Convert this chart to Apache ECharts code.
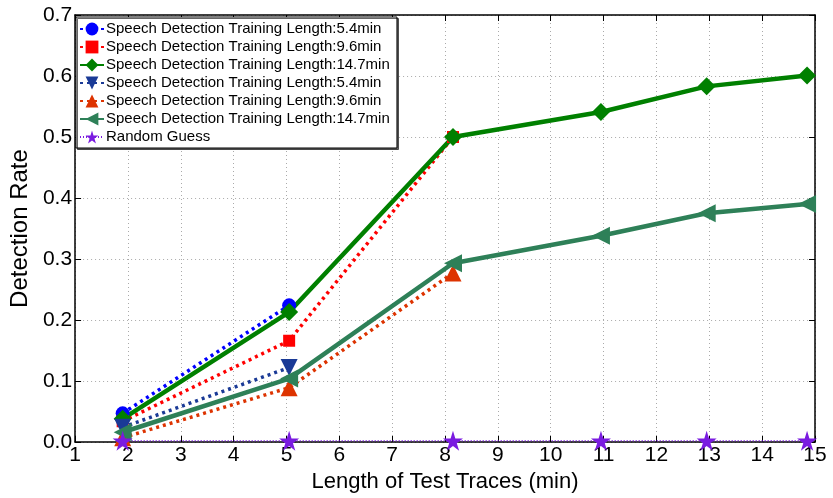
<!DOCTYPE html>
<html>
<head>
<meta charset="utf-8">
<script src="https://cdn.jsdelivr.net/npm/echarts@6/dist/echarts.min.js"></script>
<style>html,body{margin:0;padding:0;background:#fff}#c{width:833px;height:498px}</style>
</head>
<body>
<div id="c"></div>
<script>
// ---- data ----
const xValues = [1.9, 5.05, 8.15, 10.95, 12.95, 14.85];
const seriesNames = [
  'Speech Detection Training Length:5.4min',
  'Speech Detection Training Length:9.6min',
  'Speech Detection Training Length:14.7min',
  'Speech Detection Training Length:5.4min ',
  'Speech Detection Training Length:9.6min ',
  'Speech Detection Training Length:14.7min ',
  'Random Guess'
];
const blue54 = [0.047, 0.224];
const red96 = [0.034, 0.166, 0.500];
const green147 = [0.038, 0.213, 0.500, 0.541, 0.583, 0.601];
const navy54 = [0.024, 0.122];
const orange96 = [0.007, 0.089, 0.277];
const sea147 = [0.016, 0.104, 0.293, 0.338, 0.375, 0.390];
const randomGuess = [0.002, 0.002, 0.002, 0.002, 0.002, 0.002];
const yTicks = [0, 0.1, 0.2, 0.3, 0.4, 0.5, 0.6, 0.7];

const STAR = 'path://M50 0 L61.23 34.55 L97.55 34.55 L68.16 55.9 L79.39 90.45 L50 69.1 L20.61 90.45 L31.84 55.9 L2.45 34.55 L38.77 34.55 Z';

function pts(vals) { return vals.map((v, i) => [xValues[i], v]); }

function mk(name, vals, color, symbol, size, lineType, width, rotate) {
  return {
    name: name, type: 'line', data: pts(vals),
    symbol: symbol, symbolSize: size, symbolRotate: rotate || 0,
    itemStyle: { color: color },
    lineStyle: { color: color, width: width, type: lineType },
    emphasis: { disabled: true }, animation: false
  };
}

const chart = echarts.init(document.getElementById('c'));
const FONT = 'Liberation Sans';
chart.setOption({
  animation: false,
  grid: { left: 72, right: 18, top: 15, bottom: 56 },
  xAxis: [{
    type: 'value', min: 1, max: 15, interval: 1,
    name: 'Length of Test Traces (min)', nameLocation: 'middle', nameGap: 22,
    nameTextStyle: { fontFamily: FONT, fontSize: 22, color: '#000', verticalAlign: 'top' },
    axisLine: { onZero: false, lineStyle: { color: '#000', width: 1.5 } },
    axisTick: { inside: true, length: 6, lineStyle: { color: '#000' } },
    axisLabel: { fontFamily: FONT, fontSize: 21, color: '#000', margin: 3 },
    splitLine: { show: true, lineStyle: { color: '#aaa', type: [1, 3], width: 1 } }
  }, {
    type: 'value', min: 1, max: 15, interval: 1, position: 'top',
    axisLine: { onZero: false, lineStyle: { color: '#000', width: 1.5 } },
    axisTick: { inside: true, length: 6, lineStyle: { color: '#000' } },
    axisLabel: { show: false }, splitLine: { show: false }
  }],
  yAxis: [{
    type: 'value', min: 0, max: 0.7, interval: 0.1,
    name: 'Detection Rate', nameLocation: 'middle', nameGap: 40, nameRotate: 90,
    nameTextStyle: { fontFamily: FONT, fontSize: 24, color: '#000' },
    axisLine: { show: true, onZero: false, lineStyle: { color: '#000', width: 1.5 } },
    axisTick: { show: true, inside: true, length: 6, lineStyle: { color: '#000' } },
    axisLabel: { fontFamily: FONT, fontSize: 21, color: '#000', margin: 3,
      formatter: v => yTicks.includes(Math.round(v * 10) / 10) ? v.toFixed(1) : '' },
    splitLine: { show: true, lineStyle: { color: '#aaa', type: [1, 3], width: 1 } }
  }, {
    type: 'value', min: 0, max: 0.7, interval: 0.1, position: 'right',
    axisLine: { show: true, onZero: false, lineStyle: { color: '#000', width: 1.5 } },
    axisTick: { show: true, inside: true, length: 6, lineStyle: { color: '#000' } },
    axisLabel: { show: false }, splitLine: { show: false }
  }],
  legend: {
    orient: 'vertical', left: 76, top: 17,
    data: seriesNames,
    backgroundColor: '#fff', borderColor: '#000', borderWidth: 1,
    padding: [4, 3, 3, 3], itemGap: 2, itemWidth: 24, itemHeight: 16,
    textStyle: { fontFamily: FONT, fontSize: 15, lineHeight: 16, color: '#000', padding: [0, 0, 0, -3] },
    shadowColor: 'rgba(0,0,0,0.6)', shadowOffsetX: 1.5, shadowOffsetY: 1.5, shadowBlur: 0
  },
  series: [
    mk(seriesNames[0], blue54, '#0000ff', 'circle', 14, [3, 4], 3.5),
    mk(seriesNames[1], red96, '#ff0000', 'rect', 12, [3, 4], 3.5),
    mk(seriesNames[2], green147, '#008000', 'diamond', 18, 'solid', 4.5),
    mk(seriesNames[3], navy54, '#1a3a96', 'triangle', 17, [3, 4], 3.5, 180),
    mk(seriesNames[4], orange96, '#dd3300', 'triangle', 17, [3, 4], 3.5),
    mk(seriesNames[5], sea147, '#2e8058', 'triangle', 18, 'solid', 4.5, 90),
    mk(seriesNames[6], randomGuess, '#7a1be0', STAR, 20, [1, 2], 1.5)
  ]
});
</script>
</body>
</html>
